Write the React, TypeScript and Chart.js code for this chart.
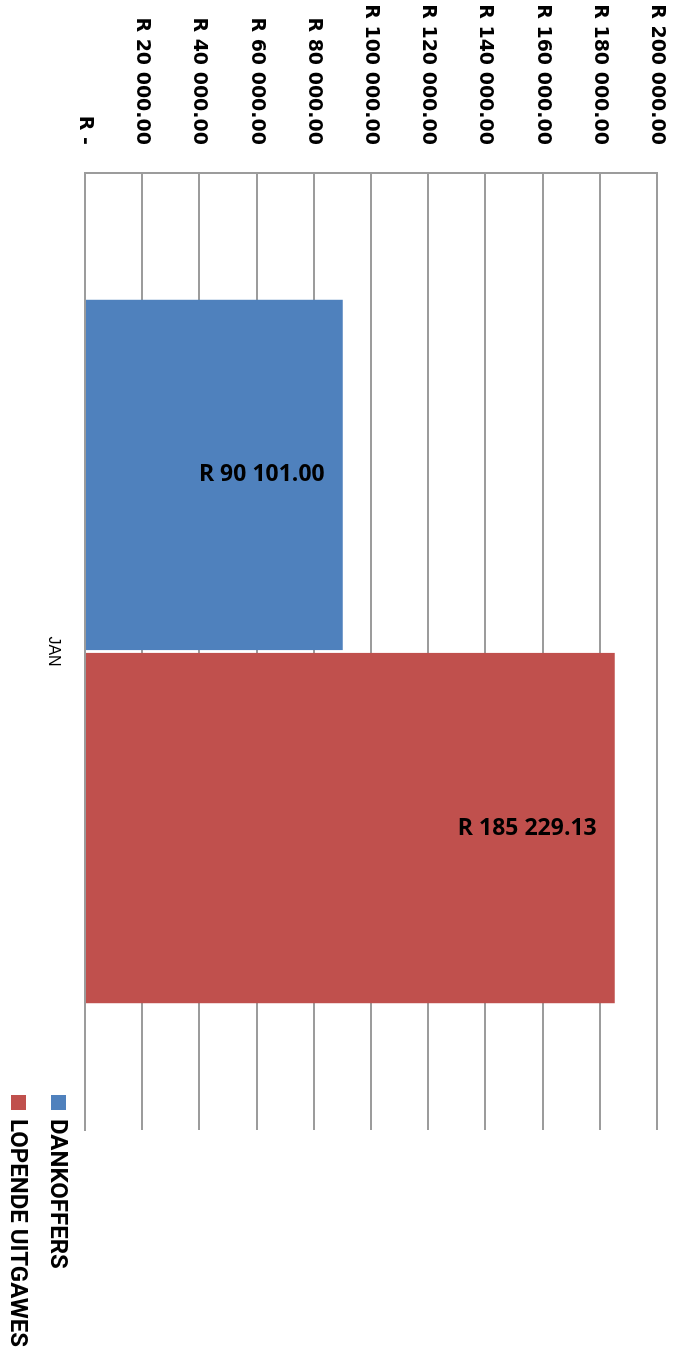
import React, { useEffect, useRef } from "react";
import { Chart, registerables } from "chart.js";

Chart.register(...registerables);

// ---- Data ----
const CATEGORIES = ["JAN"];
const SERIES_NAMES = ["DANKOFFERS", "LOPENDE UITGAWES"];
const DANKOFFERS = [90101.0];
const LOPENDE_UITGAWES = [185229.13];
const SERIES_COLORS = ["#4F81BD", "#C0504D"];
const AXIS_MIN = 0;
const AXIS_MAX = 200000;
const AXIS_STEP = 20000;

// ---- Layout (unrotated frame) ----
const W = 1351;
const H = 673;
const PLOT_LEFT = 173;
const PLOT_RIGHT = 1130;
const PLOT_TOP = 16;
const PLOT_BOTTOM = 588;
const GRID = "#9c9c9c";

function formatRand(v: number): string {
  if (v === 0) return "R -";
  const [intPart, dec] = v.toFixed(2).split(".");
  const grouped = intPart.replace(/\B(?=(\d{3})+(?!\d))/g, " ");
  return `R ${grouped}.${dec}`;
}

const valueLabels = {
  id: "valueLabels",
  afterDatasetsDraw(chart: any) {
    const ctx = chart.ctx;
    ctx.save();
    ctx.font = "bold 23px 'Open Sans', 'Noto Sans', sans-serif";
    ctx.fillStyle = "#000";
    ctx.textAlign = "right";
    ctx.textBaseline = "middle";
    chart.data.datasets.forEach((ds: any, i: number) => {
      chart.getDatasetMeta(i).data.forEach((bar: any, j: number) => {
        const v = Number(ds.data[j]);
        ctx.save();
        ctx.translate(bar.x, bar.y + 18);
        ctx.rotate(-Math.PI / 2);
        ctx.fillText(formatRand(v), 0, 0);
        ctx.restore();
      });
    });
    ctx.restore();
  },
};

const customLegend = {
  id: "customLegend",
  afterDraw(chart: any) {
    const ctx = chart.ctx;
    ctx.save();
    ctx.font = "bold 24px Roboto, 'Open Sans', sans-serif";
    ctx.textAlign = "left";
    ctx.textBaseline = "middle";
    const boxX = 1095;
    const box = 15;
    const tops = [607, 647];
    chart.data.datasets.forEach((ds: any, i: number) => {
      const top = tops[i];
      ctx.fillStyle = ds.backgroundColor;
      ctx.fillRect(boxX, top, box, box);
      ctx.fillStyle = "#000";
      ctx.fillText(ds.label, 1119, top + box / 2 + 1);
    });
    ctx.restore();
  },
};

export default function App() {
  const canvasRef = useRef<HTMLCanvasElement | null>(null);

  useEffect(() => {
    if (!canvasRef.current) return;
    const chart = new Chart(canvasRef.current, {
      type: "bar",
      data: {
        labels: CATEGORIES,
        datasets: [
          {
            label: SERIES_NAMES[0],
            data: DANKOFFERS,
            backgroundColor: SERIES_COLORS[0],
            categoryPercentage: 0.738,
            barPercentage: 0.992,
          },
          {
            label: SERIES_NAMES[1],
            data: LOPENDE_UITGAWES,
            backgroundColor: SERIES_COLORS[1],
            categoryPercentage: 0.738,
            barPercentage: 0.992,
          },
        ],
      },
      options: {
        responsive: false,
        animation: false,
        devicePixelRatio: 1,
        layout: {
          padding: { top: PLOT_TOP, right: W - PLOT_RIGHT, bottom: 0, left: 0 },
        },
        plugins: {
          legend: { display: false },
          tooltip: { enabled: false },
        },
        scales: {
          x: {
            grid: { display: false },
            border: { display: true, color: GRID, width: 2 },
            ticks: {
              font: { family: "'Liberation Sans', Arial, sans-serif", size: 16 },
              color: "#000",
              padding: 14,
            },
            afterFit: (s: any) => {
              s.height = H - PLOT_BOTTOM;
              s.paddingLeft = 0;
              s.paddingRight = 0;
            },
          },
          y: {
            min: AXIS_MIN,
            max: AXIS_MAX,
            ticks: {
              stepSize: AXIS_STEP,
              callback: (v: any) => formatRand(Number(v)),
              font: { family: "'DejaVu Sans', sans-serif", size: 19, weight: "bold" },
              color: "#000",
              padding: 28,
            },
            grid: { color: GRID, lineWidth: 2, drawTicks: false },
            border: { display: true, color: GRID, width: 2 },
            afterFit: (s: any) => {
              s.width = PLOT_LEFT;
              s.paddingTop = 0;
              s.paddingBottom = 0;
            },
          },
        },
      },
      plugins: [valueLabels, customLegend],
    });
    return () => chart.destroy();
  }, []);

  return (
    <div
      style={{
        position: "fixed",
        left: 0,
        top: 0,
        width: W,
        height: H,
        transformOrigin: "0 0",
        transform: `translate(${H}px, 0px) rotate(90deg)`,
        background: "#fff",
      }}
    >
      <canvas ref={canvasRef} width={W} height={H} style={{ display: "block" }} />
    </div>
  );
}
